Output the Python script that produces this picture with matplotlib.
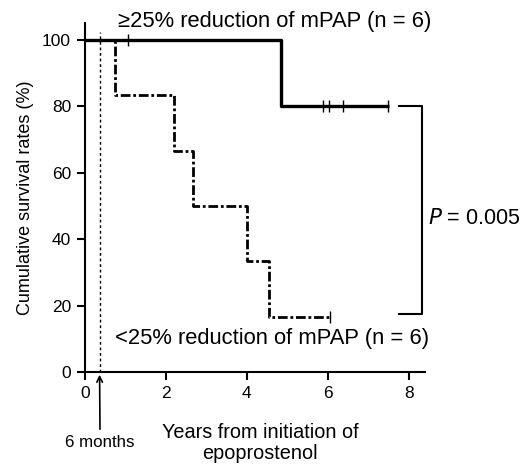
import matplotlib
matplotlib.use("Agg")
import matplotlib.pyplot as plt

plt.rcParams['font.family'] = ['Liberation Sans', 'DejaVu Sans']

# Data
hi_times = [0, 4.84, 7.5]
hi_surv = [100, 80, 80]
hi_cens_t = [1.07, 5.88, 6.02, 6.38, 7.49]
hi_cens_s = [100, 80, 80, 80, 80]

lo_times = [0, 0.74, 2.2, 2.66, 4.0, 4.55, 6.06]
lo_surv = [100, 83.3, 66.7, 50, 33.3, 16.7, 16.7]
lo_cens_t = [6.06]
lo_cens_s = [16.7]

xticks = [0, 2, 4, 6, 8]
yticks = [0, 20, 40, 60, 80, 100]
six_months = 0.36
p_text = "$P$ = 0.005"
label_hi = "≥25% reduction of mPAP (n = 6)"
label_lo = "<25% reduction of mPAP (n = 6)"

W, H = 523, 465
fig = plt.figure(figsize=(W/100, H/100), dpi=100)
ax = fig.add_axes([85/W, 1-372/H, 340/W, 348.6/H])
ax.set_xlim(0, 8.4)
ax.set_ylim(0, 105)

ax.step(hi_times, hi_surv, where='post', color='black', lw=2.4, solid_capstyle='butt')
ax.plot(hi_cens_t, hi_cens_s, ls='none', marker='|', ms=8, mew=1.0, color='black')
ax.step(lo_times, lo_surv, where='post', color='black', lw=2.0,
        dashes=(3.5, 1, 1, 1))
ax.plot(lo_cens_t, lo_cens_s, ls='none', marker='|', ms=8, mew=1.0, color='black')

# dotted 6-month line
ax.plot([six_months, six_months], [0, 102.5], color='black', lw=1.0, ls=(0, (2, 2)))

# bracket
ax.plot([7.77, 8.32, 8.32, 7.77], [80, 80, 17.5, 17.5], color='black', lw=1.5,
        clip_on=False)

for s in ['top', 'right']:
    ax.spines[s].set_visible(False)
for s in ['left', 'bottom']:
    ax.spines[s].set_linewidth(1.5)

ax.set_xticks(xticks)
ax.set_yticks(yticks)
ax.tick_params(axis='both', direction='out', length=6, width=1.5, labelsize=12.5, pad=4)

ax.set_ylabel("Cumulative survival rates (%)", fontsize=13, labelpad=6)

fig.text(260/W, 1-443/H, "Years from initiation of\nepoprostenol", ha='center', va='center',
         fontsize=14.3, linespacing=1.15)
fig.text(100/W, 1-442/H, "6 months", ha='center', va='center', fontsize=12.2)
ax.annotate("", xy=(six_months, 0), xycoords='data',
            xytext=(100/W, 1-432/H), textcoords='figure fraction',
            arrowprops=dict(arrowstyle='->', lw=1.2, color='black'),
            annotation_clip=False)

fig.text(275/W, 1-22/H, label_hi, ha='center', va='center', fontsize=15.8)
fig.text(272/W, 1-338/H, label_lo, ha='center', va='center', fontsize=15.8)
fig.text(428/W, 1-218/H, p_text, ha='left', va='center', fontsize=15.5)

fig.savefig("out.png", dpi=100)
